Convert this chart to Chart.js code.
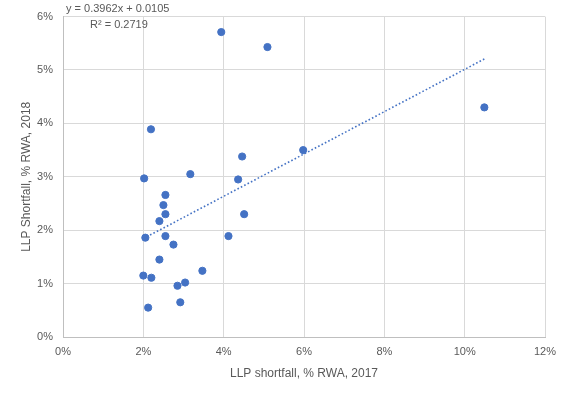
<!DOCTYPE html>
<html><head><meta charset="utf-8">
<script src="https://cdn.jsdelivr.net/npm/chart.js@4/dist/chart.umd.min.js"></script>
<style>html,body{margin:0;padding:0;background:#fff}canvas{display:block}</style>
</head><body>
<canvas id="c" width="569" height="396"></canvas>
<script>
const xValues = [2.19,2.02,3.17,4.46,4.36,2.55,2.50,2.55,2.40,4.51,2.05,2.55,4.12,2.75,2.40,3.47,2.00,2.20,3.04,2.85,2.92,2.12,3.94,5.09,5.98,10.49];
const yValues = [3.89,2.97,3.05,3.38,2.95,2.66,2.47,2.30,2.17,2.30,1.86,1.89,1.89,1.73,1.45,1.24,1.15,1.11,1.02,0.96,0.65,0.55,5.71,5.43,3.50,4.30];
const xTicks = [0,2,4,6,8,10,12];
const yTicks = [0,1,2,3,4,5,6];
const trendSlope = 0.3962;
const trendIntercept = 0.0105;
const trendR2 = 0.2719;
const xTitle = 'LLP shortfall, % RWA, 2017';
const yTitle = 'LLP Shortfall, % RWA, 2018';

const points = xValues.map((x,i)=>({x:x, y:yValues[i]}));
const xmin = Math.min(...xValues), xmax = Math.max(...xValues);
const trend = [xmin, xmax].map(x=>({x:x, y:(trendSlope*x/100 + trendIntercept)*100}));
const FONT = '"Liberation Sans", Arial, sans-serif';
const grey = '#595959';

const eqPlugin = {
  id:'eq',
  afterDraw(chart){
    const ctx = chart.ctx;
    ctx.save();
    ctx.fillStyle = grey;
    ctx.font = '11px ' + FONT;
    ctx.textBaseline = 'middle';
    ctx.textAlign = 'left';
    ctx.fillText('y = ' + trendSlope + 'x + ' + trendIntercept, 66, 9);
    ctx.fillText('R² = ' + trendR2, 90, 25);
    ctx.restore();
  }
};

new Chart(document.getElementById('c'), {
  type:'scatter',
  data:{datasets:[
    {type:'line', data:trend, borderColor:'#4472C4', borderWidth:1.6, borderDash:[1.6,2.2], pointRadius:0, fill:false, order:2},
    {data:points, backgroundColor:'#4472C4', borderColor:'#4472C4', pointRadius:3.6, pointHoverRadius:3.6, order:1}
  ]},
  options:{
    responsive:false, animation:false,
    layout:{padding:{top:15,right:24,left:0,bottom:0}},
    plugins:{legend:{display:false}, tooltip:{enabled:false}},
    scales:{
      x:{type:'linear', min:0, max:12,
        afterBuildTicks(s){ s.ticks = xTicks.map(v=>({value:v})); },
        afterFit(s){ s.height = 59; },
        grid:{color:'#d9d9d9', drawTicks:false},
        border:{color:'#bfbfbf'},
        ticks:{padding:8, color:grey, font:{family:FONT,size:11}, callback:v=>v+'%'},
        title:{display:true, text:xTitle, color:grey, font:{family:FONT,size:12}, padding:{top:0,bottom:15}}
      },
      y:{type:'linear', min:0, max:6,
        afterBuildTicks(s){ s.ticks = yTicks.map(v=>({value:v})); },
        afterFit(s){ s.width = 63; },
        grid:{color:'#d9d9d9', drawTicks:false},
        border:{color:'#bfbfbf'},
        ticks:{padding:10, color:grey, font:{family:FONT,size:11}, callback:v=>v+'%'},
        title:{display:true, text:yTitle, color:grey, font:{family:FONT,size:12}, padding:{top:19,bottom:0}}
      }
    }
  },
  plugins:[eqPlugin]
});
</script>
</body></html>
